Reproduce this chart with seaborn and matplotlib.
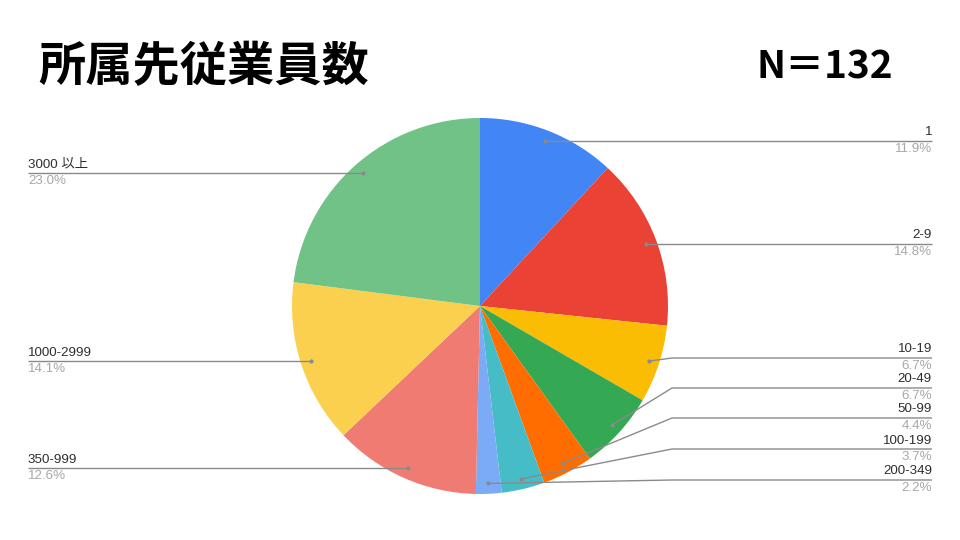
import numpy as np
import seaborn as sns
import matplotlib.pyplot as plt

sns.set_theme(style="white")
plt.rcParams['font.family'] = ['Liberation Sans', 'Noto Sans CJK JP', 'DejaVu Sans']

# 所属先従業員数 (N=132)
categories = ['1', '2-9', '10-19', '20-49', '50-99', '100-199', '200-349',
              '350-999', '1000-2999', '3000 以上']
shares = [11.9, 14.8, 6.7, 6.7, 4.4, 3.7, 2.2, 12.6, 14.1, 23.0]
colors = ['#4285F4', '#EA4335', '#FBBC04', '#34A853', '#FF6D01', '#46BDC6',
          '#7BAAF7', '#F07B72', '#FCD04F', '#71C287']
title = '所属先従業員数'
n_text = 'N＝132'

# layout in pixels (y measured from top); None = follow anchor height
label_y = [None, None, 358, 388, 418, 449, 480, None, None, None]

W, H = 960, 540
cx, cy, R = 480, 306, 188

fig = plt.figure(figsize=(9.6, 5.4), dpi=100)
ax = fig.add_axes([0, 0, 1, 1])
ax.set_xlim(0, W)
ax.set_ylim(0, H)
ax.axis('off')

wedges, _ = ax.pie(shares, colors=colors, startangle=90, counterclock=False,
                   center=(cx, H - cy), radius=R,
                   wedgeprops=dict(linewidth=0))
ax.set_xlim(0, W)
ax.set_ylim(0, H)
ax.set_aspect('equal')

line_col = '#8a8a8a'
for w, name, val, ly in zip(wedges, categories, shares, label_y):
    mid = np.deg2rad((w.theta1 + w.theta2) / 2)
    px = cx + 0.945 * R * np.cos(mid)
    py = (H - cy) + 0.945 * R * np.sin(mid)
    yl = py if ly is None else H - ly
    if px > cx:
        xs = [px, 672, 932] if px < 672 else [px, 932]
        ys = [py, yl, yl] if px < 672 else [py, yl]
        xt, ha = 932, 'right'
    else:
        xs = [px, 28]
        ys = [py, yl]
        xt, ha = 28, 'left'
    ax.plot(xs, ys, color=line_col, lw=1.0, solid_capstyle='butt')
    ax.plot(px, py, 'o', ms=2, color=line_col)
    ax.text(xt, yl + 2.5, name, ha=ha, va='bottom', fontsize=9.6, color='#2e2e2e')
    ax.text(xt, yl - 2, f'{val:.1f}%', ha=ha, va='top', fontsize=9.6, color='#a8a8a8')

ax.text(38, H - 67, title, ha='left', va='center', fontsize=34, fontweight='bold',
        family=['Noto Sans CJK JP'], color='black')
ax.text(893, H - 67, n_text, ha='right', va='center', fontsize=28, fontweight='bold',
        family=['Noto Sans CJK JP'], color='black')

fig.savefig('out.png', dpi=100, facecolor='white')
